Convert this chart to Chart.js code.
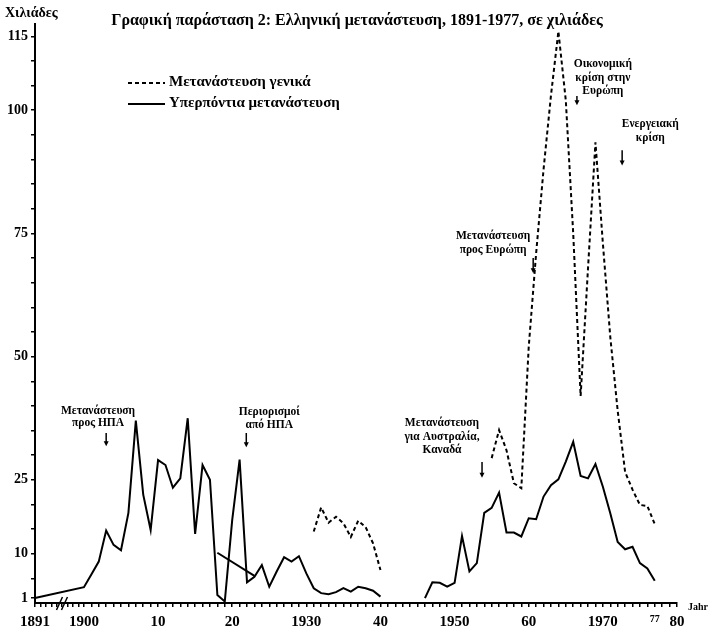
<!DOCTYPE html>
<html>
<head>
<meta charset="utf-8">
<script src="https://cdn.jsdelivr.net/npm/chart.js@4.4.1/dist/chart.umd.min.js"></script>
<style>
  html, body { margin: 0; padding: 0; background: #fff; }
  canvas { display: block; }
</style>
</head>
<body>
<canvas id="chartMetanastefsi" width="715" height="637"></canvas>
<script>
// Δεδομένα (σε χιλιάδες), διαβασμένα από το γράφημα
const chartTitle = 'Γραφική παράσταση 2: Ελληνική μετανάστευση, 1891-1977, σε χιλιάδες';
const yAxisTitle = 'Χιλιάδες';
const xAxisUnit = 'Jahr';

const overseasYears = [
  1891,
  1900, 1901, 1902, 1903, 1904, 1905, 1906, 1907, 1908, 1909,
  1910, 1911, 1912, 1913, 1914, 1915, 1916, 1917, 1918, 1919,
  1920, 1921, 1922, 1923, 1924, 1925, 1926, 1927, 1928, 1929,
  1930, 1931, 1932, 1933, 1934, 1935, 1936, 1937, 1938, 1939,
  1940, 1943, 1946, 1947, 1948, 1949,
  1950, 1951, 1952, 1953, 1954, 1955, 1956, 1957, 1958, 1959,
  1960, 1961, 1962, 1963, 1964, 1965, 1966, 1967, 1968, 1969,
  1970, 1971, 1972, 1973, 1974, 1975, 1976, 1977
];
const overseasValues = [
  1,
  3.2, 5.8, 8.4, 14.7, 11.8, 10.7, 18.3, 37, 22, 14.8,
  29, 28, 23.4, 25.3, 37.5, 14, 28, 25, 1.6, 0.3,
  16.8, 29.1, 4.2, 5.3, 7.7, 3.3, 6.4, 9.3, 8.4, 9.5,
  6, 3, 2, 1.8, 2.2, 3, 2.3, 3.3, 3, 2.5,
  1.3, null, 1, 4.2, 4.1, 3.3,
  4.1, 13.6, 6.4, 8.1, 18.3, 19.3, 22.4, 14.3, 14.3, 13.5,
  17.2, 17, 21.6, 23.9, 25.1, 28.7, 32.7, 25.8, 25.3, 28.2,
  23.6, 18.2, 12.4, 10.9, 11.4, 8.1, 7, 4.5
];

const generalYears = [
  1931, 1932, 1933, 1934, 1935, 1936, 1937, 1938, 1939, 1940,
  1943,
  1955, 1956, 1957, 1958, 1959,
  1960, 1961, 1962, 1963, 1964, 1965, 1966, 1967, 1968, 1969,
  1970, 1971, 1972, 1973, 1974, 1975, 1976, 1977
];
const generalValues = [
  14.5, 19.4, 16.3, 17.5, 16.2, 13.4, 16.7, 15.4, 12.1, 6.7,
  null,
  29.4, 35.1, 31, 24.3, 23.3,
  52, 71, 88, 103, 116, 102, 75, 42, 68, 93.5,
  73, 54, 39, 26.6, 23, 19.9, 19.7, 16
];

// η ευθεία γραμμή 1918-1923 που υπάρχει στο πρωτότυπο
const strayYears = [1918, 1923];
const strayValues = [10.2, 5.5];

const xTickYears = [1891, 1900, 1910, 1920, 1930, 1940, 1950, 1960, 1970, 1977, 1980];
const xTickLabels = ['1891', '1900', '10', '20', '1930', '40', '1950', '60', '1970', '77', '80'];
const yTickValues = [1, 10, 25, 50, 75, 100, 115];
const yTickLabels = ['1', '10', '25', '50', '75', '100', '115'];

const noteTexts = [
  ['Μετανάστευση', 'προς ΗΠΑ'],
  ['Περιορισμοί', 'από ΗΠΑ'],
  ['Μετανάστευση', 'για Αυστραλία,', 'Καναδά'],
  ['Μετανάστευση', 'προς Ευρώπη'],
  ['Οικονομική', 'κρίση στην', 'Ευρώπη'],
  ['Ενεργειακή', 'κρίση']
];

// θέσεις σημειώσεων (έτος / τιμή) - μόνο για τη διάταξη
const noteAnchors = [
  { x: 1901.9, y: 38.9, step: 12, ax: 1903.0, from: 34.5, to: 31.8 },
  { x: 1925.0, y: 38.7, step: 13, ax: 1921.9, from: 34.5, to: 31.6 },
  { x: 1948.3, y: 36.5, step: 13.5, ax: 1953.7, from: 28.6, to: 25.4 },
  { x: 1955.2, y: 74.4, step: 14, ax: 1960.6, from: 70.0, to: 66.9 },
  { x: 1970.0, y: 109.3, step: 13.5, ax: 1966.5, from: 102.9, to: 101.0 },
  { x: 1976.4, y: 97.2, step: 14, ax: 1972.6, from: 91.9, to: 88.8 }
];

const FIRST_YEAR = 1891;
const BREAK_YEAR = 1900;
const SERIF = '"Liberation Serif", "DejaVu Serif", serif';

// Κλίμακα με "σπάσιμο" 1891-1900 (όπως το // στον άξονα)
class BrokenLinearScale extends Chart.LinearScale {
  getPixelForValue(value) {
    if (value !== null && value !== undefined && value < BREAK_YEAR) {
      value = this.min + (value - FIRST_YEAR) * (BREAK_YEAR - this.min) / (BREAK_YEAR - FIRST_YEAR);
    }
    return super.getPixelForValue(value);
  }
}
BrokenLinearScale.id = 'brokenLinear';
BrokenLinearScale.defaults = Chart.LinearScale.defaults;
Chart.register(BrokenLinearScale);

const toPoints = (xs, ys) => xs.map((x, i) => ({ x: x, y: ys[i] }));

// Κείμενα, υπόμνημα, σημειώσεις
const paperText = {
  id: 'paperText',
  afterDraw(chart) {
    const { ctx, chartArea } = chart;
    const x = chart.scales.x, y = chart.scales.y;
    ctx.save();
    ctx.fillStyle = '#000';
    ctx.strokeStyle = '#000';

    ctx.font = 'bold 16px ' + SERIF;
    ctx.textAlign = 'center';
    ctx.textBaseline = 'middle';
    ctx.fillText(chartTitle, 357, 21);

    ctx.font = 'bold 14px ' + SERIF;
    ctx.textAlign = 'left';
    ctx.fillText(yAxisTitle, 5, 13);

    // υπόμνημα
    const legendRows = [chart.data.datasets[0], chart.data.datasets[1]];
    legendRows.forEach((ds, i) => {
      const ly = 82 + i * 21;
      ctx.lineWidth = 2;
      ctx.setLineDash(ds.borderDash || []);
      ctx.beginPath();
      ctx.moveTo(128, ly + 1);
      ctx.lineTo(165, ly + 1);
      ctx.stroke();
      ctx.setLineDash([]);
      ctx.font = 'bold 15px ' + SERIF;
      ctx.fillText(ds.label, 169, ly);
    });

    // Jahr
    ctx.font = 'bold 10px ' + SERIF;
    ctx.fillText(xAxisUnit, chartArea.right + 11, chartArea.bottom + 4);

    // σπάσιμο άξονα //
    const bx = x.getPixelForValue(1895.5);
    ctx.lineWidth = 1.5;
    [0, 5].forEach(dx => {
      ctx.beginPath();
      ctx.moveTo(bx + dx - 3, chartArea.bottom + 7);
      ctx.lineTo(bx + dx + 3, chartArea.bottom - 6);
      ctx.stroke();
    });

    // σημειώσεις με βέλη
    ctx.font = 'bold 11.5px ' + SERIF;
    ctx.textAlign = 'center';
    noteTexts.forEach((lines, i) => {
      const a = noteAnchors[i];
      const cx = x.getPixelForValue(a.x);
      const cy = y.getPixelForValue(a.y);
      lines.forEach((t, j) => ctx.fillText(t, cx, cy + j * a.step));
      const ax = x.getPixelForValue(a.ax);
      const y0 = y.getPixelForValue(a.from);
      const y1 = y.getPixelForValue(a.to);
      ctx.lineWidth = 1.5;
      ctx.beginPath();
      ctx.moveTo(ax, y0);
      ctx.lineTo(ax, y1 - 3);
      ctx.stroke();
      ctx.beginPath();
      ctx.moveTo(ax - 2.5, y1 - 5);
      ctx.lineTo(ax + 2.5, y1 - 5);
      ctx.lineTo(ax, y1);
      ctx.closePath();
      ctx.fill();
    });
    ctx.restore();
  }
};

new Chart(document.getElementById('chartMetanastefsi'), {
  type: 'line',
  data: {
    datasets: [
      {
        label: 'Μετανάστευση γενικά',
        data: toPoints(generalYears, generalValues),
        borderColor: '#000',
        borderWidth: 2,
        borderDash: [4, 3],
        pointRadius: 0,
        tension: 0,
        spanGaps: false,
        clip: false
      },
      {
        label: 'Υπερπόντια μετανάστευση',
        data: toPoints(overseasYears, overseasValues),
        borderColor: '#000',
        borderWidth: 2,
        pointRadius: 0,
        tension: 0,
        spanGaps: false,
        clip: false
      },
      {
        label: '',
        data: toPoints(strayYears, strayValues),
        borderColor: '#000',
        borderWidth: 2,
        pointRadius: 0,
        clip: false
      }
    ]
  },
  options: {
    responsive: false,
    animation: false,
    events: [],
    layout: { padding: { top: 24, right: 38, left: 0, bottom: 0 } },
    scales: {
      x: {
        type: 'brokenLinear',
        min: 1893.4,
        max: 1980,
        afterFit: (scale) => { scale.height = 34; },
        afterBuildTicks: (scale) => {
          const t = [];
          for (let yr = FIRST_YEAR; yr <= 1980; yr++) t.push({ value: yr });
          scale.ticks = t;
        },
        border: { display: true, color: '#000', width: 2 },
        grid: { display: true, drawOnChartArea: false, color: '#000', lineWidth: 1.5, tickLength: 4 },
        ticks: {
          autoSkip: false,
          maxRotation: 0,
          padding: 6,
          color: '#000',
          font: (c) => ({ family: SERIF, weight: 'bold', size: c.tick && c.tick.value === 1977 ? 10 : 15 }),
          callback: (value) => {
            const i = xTickYears.indexOf(value);
            return i >= 0 ? xTickLabels[i] : '';
          }
        }
      },
      y: {
        type: 'linear',
        min: 0,
        max: 117.5,
        afterFit: (scale) => { scale.width = 35; },
        afterBuildTicks: (scale) => {
          const t = [];
          for (let v = 5; v <= 115; v += 5) t.push(v);
          yTickValues.forEach(v => { if (!t.includes(v)) t.push(v); });
          t.sort((a, b) => a - b);
          scale.ticks = t.map(v => ({ value: v }));
        },
        border: { display: true, color: '#000', width: 2 },
        grid: { display: true, drawOnChartArea: false, color: '#000', lineWidth: 1.5, tickLength: 4 },
        ticks: {
          autoSkip: false,
          padding: 3,
          color: '#000',
          font: { family: SERIF, weight: 'bold', size: 14 },
          callback: (value) => {
            const i = yTickValues.indexOf(value);
            return i >= 0 ? yTickLabels[i] : '';
          }
        }
      }
    },
    plugins: {
      legend: { display: false },
      tooltip: { enabled: false },
      title: { display: false }
    }
  },
  plugins: [paperText]
});
</script>
</body>
</html>
